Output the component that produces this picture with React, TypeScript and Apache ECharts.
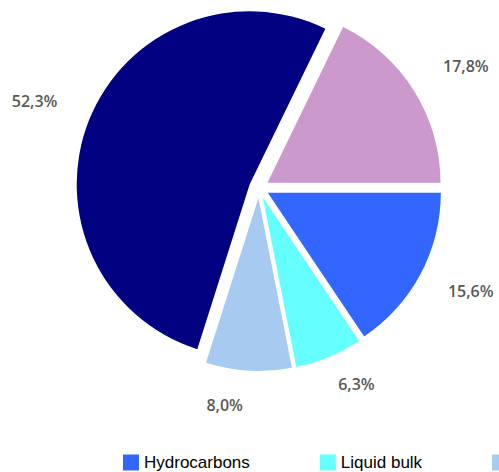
import React, { useEffect, useRef } from "react";
import * as echarts from "echarts";

const categories = ["Hydrocarbons", "Liquid bulk", "Dry bulk", "Containers", "Other goods"];
const shares = [15.6, 6.3, 8.0, 52.3, 17.8];
const colors = ["#3366FF", "#66FFFF", "#A6CAF0", "#000080", "#CC99CC"];

// styling: small per-label nudges (px) applied after radial placement
const LABEL_NUDGE: [number, number][] = [[0, -10], [11, -13], [-22, -1], [-1, 2], [4, 5]];

const CX = 259;
const CY = 188;
const R = 173;
const EXPLODE = 10;
const LABEL_GAP = 26;
const FONT = "'Liberation Sans', Arial, sans-serif";
const LABEL_FONT = "'Open Sans', 'Liberation Sans', sans-serif";

export default function App() {
  const ref = useRef<HTMLDivElement>(null);
  useEffect(() => {
    const chart = echarts.init(ref.current!, null, { renderer: "svg" });
    const total = shares.reduce((a, b) => a + b, 0);
    let acc = 0;
    const mids = shares.map((v) => {
      const m = ((acc + v / 2) / total) * 2 * Math.PI;
      acc += v;
      return m;
    });
    const series = categories.map((_, i) => {
      const c = Math.cos(mids[i]);
      const s = Math.sin(mids[i]);
      const ex = CX + EXPLODE * c;
      const ey = CY + EXPLODE * s;
      return {
        type: "pie",
        name: "s" + i,
        center: [ex, ey],
        radius: R,
        startAngle: 0,
        clockwise: true,
        avoidLabelOverlap: false,
        silent: true,
        data: categories.map((name, j) => ({
          name,
          value: shares[j],
          itemStyle: { color: j === i ? colors[j] : "rgba(0,0,0,0)" },
          label: { show: j === i },
        })),
        label: {
          position: "outside",
          formatter: (p: any) => p.value.toFixed(1).replace(".", ",") + "%",
          color: "#595959",
          fontSize: 16,
          fontWeight: 600,
          fontFamily: LABEL_FONT,
        },
        labelLine: { show: false },
        labelLayout: (p: any) => {
          if (p.dataIndex !== i) return {};
          const w = p.labelRect.width / 2;
          const h = p.labelRect.height / 2;
          const d = R + LABEL_GAP + 1.35 * w * Math.abs(c) + h * Math.abs(s);
          return {
            x: ex + d * c + LABEL_NUDGE[i][0],
            y: ey + d * s + LABEL_NUDGE[i][1],
            align: "center",
            verticalAlign: "middle",
          };
        },
      };
    });
    chart.setOption({
      animation: false,
      backgroundColor: "#ffffff",
      legend: {
        left: 118,
        top: 449,
        width: 3000,
        orient: "horizontal",
        icon: "rect",
        itemWidth: 16,
        itemHeight: 16,
        itemGap: 70,
        textStyle: { fontSize: 17, lineHeight: 16, color: "#000000", fontFamily: FONT },
        data: categories.map((name, i) => ({ name, itemStyle: { color: colors[i] } })),
      },
      series,
    });
    return () => chart.dispose();
  }, []);
  return (
    <div
      ref={ref}
      style={{ position: "fixed", left: 0, top: 0, width: 499, height: 472 }}
    />
  );
}
